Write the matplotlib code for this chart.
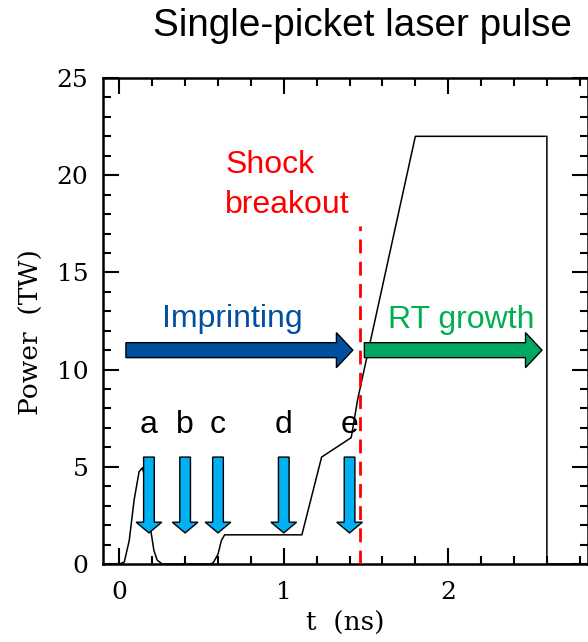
import matplotlib.pyplot as plt
from matplotlib.ticker import MultipleLocator

# laser pulse shape: time (ns) and power (TW)
t_ns = [-0.1, 0.0, 0.03, 0.06, 0.09, 0.12, 0.14, 0.155, 0.17, 0.19, 0.21, 0.23, 0.26,
        0.55, 0.57, 0.60, 0.62, 0.64, 1.11, 1.23, 1.41, 1.45, 1.80, 2.60, 2.60, 2.85]
power_tw = [0.0, 0.0, 0.1, 1.2, 3.3, 4.75, 4.95, 4.5, 3.2, 1.8, 0.7, 0.2, 0.0,
            0.0, 0.05, 0.5, 1.2, 1.5, 1.5, 5.5, 6.5, 8.5, 22.0, 22.0, 0.0, 0.0]

# probe times marked by the down arrows
probe_labels = ['a', 'b', 'c', 'd', 'e']
probe_t = [0.18, 0.40, 0.60, 1.00, 1.40]

shock_t = 1.463
imprint_span = (0.04, 1.42)
rt_span = (1.49, 2.57)

sans = 'Liberation Sans'
serif = 'DejaVu Serif'
txt_size = 23

plt.figure(figsize=(5.88, 6.42), dpi=100)
ax = plt.axes([0.175, 0.1215, 0.825, 0.757])

ax.plot(t_ns, power_tw, color='black', lw=1.1, zorder=2)

# shock breakout line
ax.plot([shock_t, shock_t], [0, 17.4], color='red', lw=2, dashes=(5, 3), zorder=4)
ax.text(0.645, 20.1, 'Shock', color='red', fontsize=txt_size, family=sans,
        ha='left', va='baseline')
ax.text(0.645, 18.05, 'breakout', color='red', fontsize=txt_size, family=sans,
        ha='left', va='baseline')

# probe arrows
for lab, x in zip(probe_labels, probe_t):
    ax.arrow(x, 5.5, 0, -3.9, width=0.065, head_width=0.156, head_length=0.55,
             length_includes_head=True, fc='#00B0F0', ec='black', lw=1.0, zorder=3)
    ax.text(x, 6.74, lab, fontsize=txt_size, family=sans, ha='center', va='baseline')

# phase arrows
ax.arrow(imprint_span[0], 11.0, imprint_span[1] - imprint_span[0], 0, width=0.77,
         head_width=1.8, head_length=0.10, length_includes_head=True,
         fc='#0050A0', ec='black', lw=1.0, zorder=3)
ax.text(0.69, 12.2, 'Imprinting', color='#0050A0', fontsize=txt_size,
        family=sans, ha='center', va='baseline')
ax.arrow(rt_span[0], 11.0, rt_span[1] - rt_span[0], 0, width=0.77,
         head_width=1.8, head_length=0.10, length_includes_head=True,
         fc='#00A862', ec='black', lw=1.0, zorder=3)
ax.text(2.08, 12.15, 'RT growth', color='#00B050', fontsize=txt_size,
        family=sans, ha='center', va='baseline')

ax.set_xlim(-0.1, 2.85)
ax.set_ylim(0, 25)
ax.xaxis.set_major_locator(MultipleLocator(1))
ax.xaxis.set_minor_locator(MultipleLocator(0.2))
ax.yaxis.set_major_locator(MultipleLocator(5))
ax.yaxis.set_minor_locator(MultipleLocator(1))
ax.tick_params(which='both', direction='in', top=True, right=True, width=1.5,
               labelsize=18)
ax.tick_params(axis='y', which='major', pad=10.5)
ax.tick_params(axis='x', which='major', pad=12)
ax.tick_params(which='major', length=11.5)
ax.tick_params(which='minor', length=6)
for lbl in ax.get_xticklabels() + ax.get_yticklabels():
    lbl.set_family(serif)
for sp in ax.spines.values():
    sp.set_linewidth(1.8)

ax.set_xlabel('t  (ns)', fontsize=19, family=serif)
ax.set_ylabel('Power  (TW)', fontsize=19, family=serif)
ax.xaxis.set_label_coords(0.5, -0.097)
ax.yaxis.set_label_coords(-0.122, 0.477)

plt.figtext(0.616, 0.944, 'Single-picket laser pulse', fontsize=27.8,
            family=sans, ha='center', va='baseline')

plt.savefig('out.png', dpi=100)
